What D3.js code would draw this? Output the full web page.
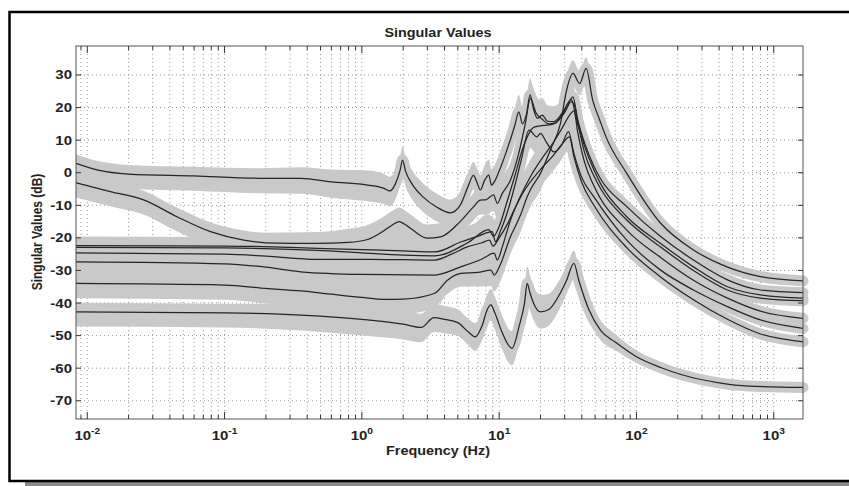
<!DOCTYPE html>
<html>
<head>
<meta charset="utf-8">
<script src="https://cdn.jsdelivr.net/npm/d3@7"></script>
<style>
  body { margin: 0; background: #fff; }
  text { font-family: "Liberation Sans", Arial, sans-serif; font-weight: bold; fill: #222; }
</style>
</head>
<body>
<svg id="chart" width="849" height="486"></svg>
<script>
// Axis limits and ticks
const xDomain = [0.00828, 1633];
const yDomain = [-75.6, 38.9];
const yTicks = [30, 20, 10, 0, -10, -20, -30, -40, -50, -60, -70];
const xDecades = [-2, -1, 0, 1, 2, 3];

// Width of the grey uncertainty band (dB above / below each line) vs frequency
const bandFreq = [0.008, 0.1, 0.5, 1, 3, 6, 10, 20, 40, 100, 300, 1700];
const bandUp   = [2.8, 2.8, 3.5, 4.5, 4.2, 4, 5.2, 5.2, 3.6, 1.8, 0.7, 0.2];
const bandDown = [4.5, 4.5, 4.8, 5, 4.5, 4, 5.2, 5.2, 3.6, 1.8, 0.7, 0.2];

// Singular value curves: [frequency (Hz), dB]
const sv1 = [[0.00828, 2.9], [0.012, 0.8], [0.02, -0.4], [0.06, -1.0], [0.18, -1.7], [0.36, -1.7],
  [0.6, -2.8], [1.1, -3.8], [1.45, -4.8], [1.6, -5.6], [1.75, -3.5], [1.9, 0.8], [1.98, 3.9],
  [2.08, 0.5], [2.3, -3.2], [2.8, -7.5], [3.5, -10.5], [4.4, -12.3], [5.2, -10], [5.9, -4.5],
  [6.5, -0.8], [6.9, -3], [7.3, -5.3], [7.8, -2.5], [8.4, -0.7], [8.8, -3.8], [9.3, -2.5],
  [10, 0.5], [11.4, 7], [13, 14.5], [13.9, 18.7], [14.8, 15], [15.8, 18], [16.8, 23.9],
  [17.8, 19.5], [19, 16.7], [20.6, 17.7], [22.5, 15.8], [25, 15.7], [29, 18.5], [32, 21.5],
  [34.5, 23.3], [37, 17], [42, 9], [49, 2], [55, -2], [85, -10.4], [150, -19.6], [260, -26.8],
  [460, -32.9], [800, -36], [1633, -36.8]];

const sv2 = [[0.00828, -3.1], [0.0147, -5.8], [0.026, -8.4], [0.045, -13.5], [0.079, -18.1],
  [0.138, -20.7], [0.2, -21.5], [0.47, -21.7], [0.8, -21.4], [1.1, -20.5], [1.4, -18.2],
  [1.7, -15.8], [1.87, -15], [2.05, -15.8], [2.3, -17.3], [3.0, -20.1], [3.8, -19.6], [5.2, -15],
  [6.5, -10.5], [7.3, -8.4], [8, -8.3], [9.1, -6.8], [9.7, -9.4], [10.5, -6.5], [12.1, -2.2],
  [13.9, 6], [15.5, 15], [16.9, 22.8], [18.5, 18.5], [20.5, 16.5], [23, 15], [25.5, 15.2],
  [29, 18], [33.5, 22.5], [36.5, 16.5], [42, 8], [49, 0.8], [55, -3.5], [85, -13.5],
  [150, -21.7], [260, -28.9], [460, -35], [800, -37.5], [1633, -38.5]];

const sv3 = [[0.00828, -22.4], [0.1, -22.5], [0.3, -22.9], [0.47, -23.2], [1, -23.6], [2, -24],
  [3.4, -24.3], [5.3, -21.2], [7, -19.5], [8.9, -18.1], [9.4, -21.2], [10.2, -18], [11.4, -12.5],
  [13, -4], [14.5, 4], [16.5, 13.1], [18.8, 11], [20, 12.1], [22, 9.5], [25, 6.4], [28.5, 8.5],
  [32, 12.6], [35, 6], [40, -1.5], [49, -7.4], [85, -20.7], [150, -29.9], [260, -36],
  [460, -41.1], [800, -45.2], [1633, -47.8]];

const sv4 = [[0.00828, -24.6], [0.1, -25], [0.2, -25.6], [0.47, -26.6], [1, -26.6], [2, -26.7],
  [3.4, -26.8], [4.5, -25], [5.9, -22.7], [7.5, -21.5], [8.5, -20.7], [9, -22.5], [10, -20],
  [11.4, -16], [13, -11], [15, -6], [20, 1], [25, 5.5], [29, 9], [32.5, 11], [35, 5], [40, -3],
  [49, -10], [85, -23], [150, -32], [260, -39], [460, -45], [800, -49.5], [1633, -51.9]];

const sv5 = [[0.00828, -27.4], [0.1, -28], [0.2, -29], [0.36, -30.4], [1, -31.2], [3.4, -31.4],
  [5.25, -28.9], [7.5, -26.5], [9.2, -24.7], [9.7, -26.8], [10.5, -23], [12, -15], [14, -8],
  [17, -1], [21, 5], [25, 9.5], [29, 14], [33, 18], [35, 19], [37.5, 12], [42, 3], [49, -4],
  [85, -17.6], [150, -26], [260, -33], [460, -38.5], [800, -42.5], [1633, -44.7]];

const sv6 = [[0.00828, -34], [0.1, -34.5], [0.2, -35.5], [0.36, -36.3], [0.6, -37.3], [1, -38.3],
  [1.45, -38.9], [2, -38.8], [3.4, -37], [4.2, -33], [5.25, -30.9], [7, -30.6], [8.7, -29.9],
  [9.2, -31.4], [10, -29], [12.1, -19.6], [14.3, -13], [16, -7.4], [17, -5], [20, -0.2],
  [23.6, 7], [28, 15.2], [31, 25.4], [34.5, 30.5], [38.6, 27.4], [43, 32], [48, 22.3],
  [54, 16.2], [60, 11], [85, -0.2], [150, -15.5], [260, -23.7], [456, -28.9], [800, -31.9],
  [1633, -33.2]];

const sv7 = [[0.00828, -22.9], [0.1, -23.1], [0.3, -23.5], [0.47, -23.8], [1, -24.6], [2, -25.3],
  [3.4, -25.5], [5.9, -21.5], [8.4, -17.5], [9.1, -19.5], [10, -16.5], [11.4, -9], [13, -1],
  [15, 8], [18, 14], [21, 14.5], [25, 15], [30, 18.5], [33.5, 21.8], [35.5, 20.5], [38, 14],
  [42, 6], [49, -1], [55, -5], [85, -14.5], [150, -22.8], [260, -30], [460, -36], [800, -38.5],
  [1633, -39.3]];

const sv8 = [[0.00828, -42.7], [0.1, -43], [0.36, -43.7], [1.1, -45.2], [2, -46.5], [2.7, -47.5],
  [3.35, -44.5], [4, -45], [5, -46], [6, -49], [6.7, -50.4], [7.5, -47], [8.2, -42], [8.7, -40.6],
  [9.3, -43], [10.5, -49], [12.4, -53.9], [14, -47], [15.3, -40], [16, -34], [16.8, -37],
  [18, -40.5], [20, -42.7], [23, -42], [27, -38], [31, -33], [35, -27.8], [38, -33], [45, -42],
  [55, -48.5], [70, -52], [100, -56.5], [150, -59.8], [217, -62.1], [400, -64.5], [660, -65.5],
  [1633, -65.9]];

const curves = [sv1, sv2, sv3, sv4, sv5, sv6, sv7, sv8];

const plot = {left: 76, right: 803, top: 46, bottom: 419};
const svg = d3.select("#chart");

const x = d3.scaleLog().domain(xDomain).range([plot.left, plot.right]);
const y = d3.scaleLinear().domain(yDomain).range([plot.bottom, plot.top]);
const up = d3.scaleLog().domain(bandFreq).range(bandUp).clamp(true);
const down = d3.scaleLog().domain(bandFreq).range(bandDown).clamp(true);

// outer frame with its shadow
svg.append("rect").attr("x", 25).attr("y", 482).attr("width", 824).attr("height", 4).attr("fill", "#8a8a8a");
svg.append("rect").attr("x", 9.5).attr("y", 12).attr("width", 900).attr("height", 469)
  .attr("fill", "none").attr("stroke", "#000").attr("stroke-width", 2.5);

// grid
const grid = svg.append("g");
const minorFreqs = [];
xDecades.concat([-3]).forEach(d => {
  for (let m = 1; m <= 9; m++) {
    const f = m * Math.pow(10, d);
    if (f >= xDomain[0] && f <= xDomain[1]) minorFreqs.push(f);
  }
});
grid.selectAll("line.vg").data(minorFreqs).join("line")
  .attr("x1", d => x(d)).attr("x2", d => x(d))
  .attr("y1", plot.top).attr("y2", plot.bottom)
  .attr("stroke", "#9a9a9a").attr("stroke-width", 1).attr("stroke-dasharray", "1,3");
grid.selectAll("line.hg").data(yTicks).join("line")
  .attr("x1", plot.left).attr("x2", plot.right)
  .attr("y1", d => y(d)).attr("y2", d => y(d))
  .attr("stroke", "#9a9a9a").attr("stroke-width", 1).attr("stroke-dasharray", "1,3");

// curves
svg.append("clipPath").attr("id", "clip").append("rect")
  .attr("x", plot.left).attr("y", plot.top)
  .attr("width", plot.right - plot.left + 6).attr("height", plot.bottom - plot.top);

const band = d3.area()
  .x(d => x(d[0]))
  .y0(d => y(d[1] - down(d[0])))
  .y1(d => y(d[1] + up(d[0])))
  .curve(d3.curveMonotoneX);
const line = d3.line()
  .x(d => x(d[0]))
  .y(d => y(d[1]))
  .curve(d3.curveMonotoneX);

const marks = svg.append("g").attr("clip-path", "url(#clip)");
curves.forEach(c => {
  marks.append("path").attr("d", band(c)).attr("fill", "#c9c9c9");
  marks.append("path").attr("d", line(c)).attr("fill", "none")
    .attr("stroke", "#c9c9c9").attr("stroke-width", 11)
    .attr("stroke-linejoin", "round").attr("stroke-linecap", "round");
});
curves.forEach(c => {
  marks.append("path").attr("d", line(c)).attr("fill", "none")
    .attr("stroke", "#262626").attr("stroke-width", 1.25);
});

// axes box and ticks
svg.append("rect").attr("x", plot.left).attr("y", plot.top)
  .attr("width", plot.right - plot.left).attr("height", plot.bottom - plot.top)
  .attr("fill", "none").attr("stroke", "#555").attr("stroke-width", 1);

const ticks = svg.append("g").attr("stroke", "#333").attr("stroke-width", 1);
minorFreqs.forEach(f => {
  const major = Math.abs(Math.log10(f) - Math.round(Math.log10(f))) < 1e-9;
  const len = major ? 7 : 4;
  ticks.append("line").attr("x1", x(f)).attr("x2", x(f)).attr("y1", plot.bottom).attr("y2", plot.bottom - len);
  ticks.append("line").attr("x1", x(f)).attr("x2", x(f)).attr("y1", plot.top).attr("y2", plot.top + len);
});
yTicks.forEach(v => {
  ticks.append("line").attr("x1", plot.left).attr("x2", plot.left + 5).attr("y1", y(v)).attr("y2", y(v));
  ticks.append("line").attr("x1", plot.right).attr("x2", plot.right - 5).attr("y1", y(v)).attr("y2", y(v));
});

// tick labels
svg.selectAll("text.yl").data(yTicks).join("text")
  .attr("transform", d => `translate(72,${y(d) + 4.5}) scale(1.2,1)`)
  .attr("text-anchor", "end").attr("font-size", 12.5)
  .text(d => d);

const xl = svg.selectAll("text.xl").data(xDecades).join("text")
  .attr("transform", d => `translate(${x(Math.pow(10, d))},440) scale(1.2,1)`)
  .attr("text-anchor", "middle").attr("font-size", 12.5);
xl.append("tspan").text("10");
xl.append("tspan").attr("dy", -6).attr("font-size", 8.5).text(d => d);

// titles
svg.append("text").attr("transform", "translate(438,37) scale(1.2,1)")
  .attr("text-anchor", "middle").attr("font-size", 12).text("Singular Values");
svg.append("text").attr("transform", "translate(438,455) scale(1.2,1)")
  .attr("text-anchor", "middle").attr("font-size", 12).text("Frequency (Hz)");
svg.append("text").attr("transform", "translate(41.5,232) scale(1.2,1) rotate(-90)")
  .attr("text-anchor", "middle").attr("font-size", 12).text("Singular Values (dB)");
</script>
</body>
</html>
